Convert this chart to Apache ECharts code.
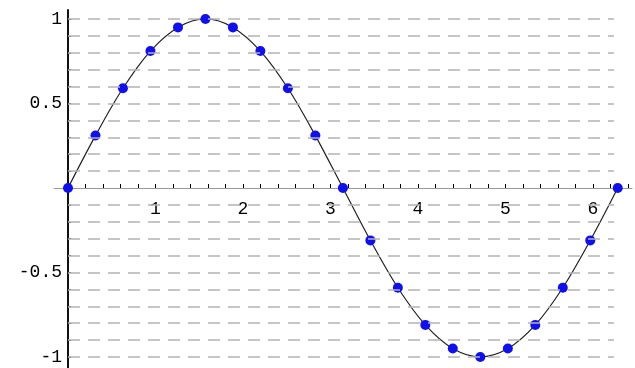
<!DOCTYPE html>
<html><head><meta charset="utf-8">
<script src="https://cdn.jsdelivr.net/npm/echarts@6/dist/echarts.min.js"></script>
<style>html,body{margin:0;padding:0;background:#fff}#c{width:635px;height:368px}</style>
</head><body><div id="c"></div>
<script>
const xValues = [0, 0.314, 0.628, 0.942, 1.257, 1.571, 1.885, 2.199, 2.513, 2.827, 3.142,
  3.456, 3.770, 4.084, 4.398, 4.712, 5.027, 5.341, 5.655, 5.969, 6.283];
const yValues = [0, 0.31, 0.59, 0.81, 0.95, 1, 0.95, 0.81, 0.59, 0.31, 0,
  -0.31, -0.59, -0.81, -0.95, -1, -0.95, -0.81, -0.59, -0.31, 0];
const yTickLabels = [-1, -0.5, 0.5, 1];
const xTickLabels = [1, 2, 3, 4, 5, 6];
const xTickMarks = [0.2, 0.4, 0.6, 0.8, 1, 1.2, 1.4, 1.6, 1.8, 2, 2.2, 2.4, 2.6, 2.8, 3,
  3.2, 3.4, 3.6, 3.8, 4, 4.2, 4.4, 4.6, 4.8, 5, 5.2, 5.4, 5.6, 5.8, 6, 6.2, 6.4];
const gridValues = [-1, -0.9, -0.8, -0.7, -0.6, -0.5, -0.4, -0.3, -0.2, -0.1, 0.1, 0.2, 0.3, 0.4, 0.5, 0.6, 0.7, 0.8, 0.9, 1];
const gridLineEndX = 6.24;

const pts = xValues.map((x, i) => [x, yValues[i]]);
const chart = echarts.init(document.getElementById('c'));
const font = 'Liberation Mono';
const yMin = -1.065, yMax = 1.053;
const xMin = -0.16, xMax = 6.446;
const W = 635, H = 368;
const gridTop = 10, gridBottom = 0, gridLeft = 54, gridRight = 3;
const plotH = H - gridTop - gridBottom;
const plotW = W - gridLeft - gridRight;
const xZeroOffset = -plotH * (0 - yMin) / (yMax - yMin);
const yZeroOffset = -plotW * (0 - xMin) / (xMax - xMin);
chart.setOption({
  animation: false,
  grid: { left: gridLeft, right: gridRight, top: gridTop, bottom: gridBottom, containLabel: false, outerBoundsMode: 'none' },
  xAxis: {
    type: 'value', min: xMin, max: xMax, interval: 1,
    position: 'bottom', offset: xZeroOffset,
    axisLine: { onZero: false, lineStyle: { color: '#999', width: 1 } },
    axisTick: { show: true, inside: true, length: 4, customValues: xTickMarks, lineStyle: { color: '#000' } },
    minorTick: { show: false },
    splitLine: { show: false },
    axisLabel: {
      margin: 12, color: '#000', fontFamily: font, fontSize: 18,
      customValues: xTickLabels
    }
  },
  yAxis: {
    type: 'value', min: yMin, max: yMax,
    position: 'left', offset: yZeroOffset,
    axisLine: { show: true, onZero: false, lineStyle: { color: '#111', width: 2 } },
    axisTick: { show: true, inside: true, length: 3, customValues: gridValues, lineStyle: { color: '#111' } },
    splitLine: { show: false },
    axisLabel: {
      margin: 6, color: '#000', fontFamily: font, fontSize: 18,
      customValues: yTickLabels
    }
  },
  series: [{
    type: 'line', data: pts, smooth: 0.35,
    symbol: 'circle', symbolSize: 10,
    itemStyle: { color: '#1010ee' },
    lineStyle: { color: '#222', width: 1.2 },
    markLine: {
      silent: true, symbol: 'none', label: { show: false },
      lineStyle: { color: '#b3b3b3', type: [12, 8], width: 1.5 },
      data: gridValues.map(v => [{ coord: [0, v] }, { coord: [gridLineEndX, v] }])
    },
    z: 3
  }]
});
</script></body></html>
